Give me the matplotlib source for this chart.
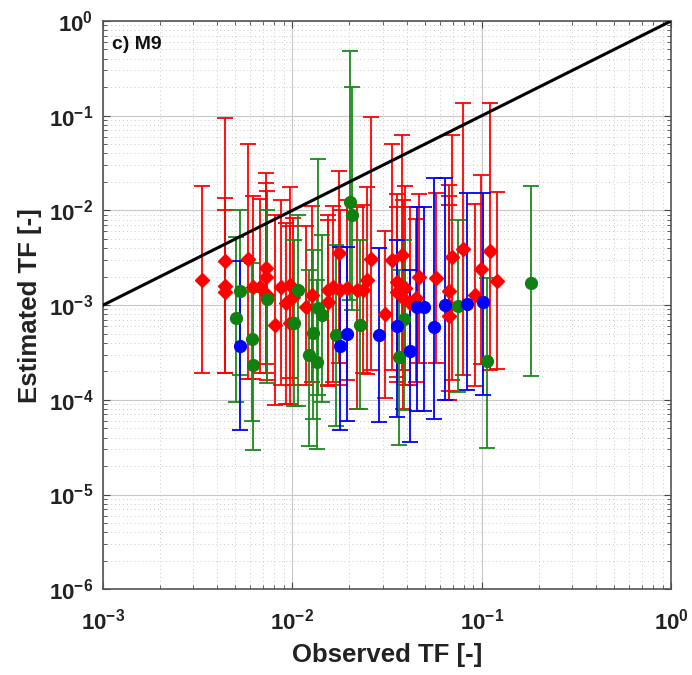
import numpy as np
import matplotlib
matplotlib.use("Agg")
import matplotlib.pyplot as plt
from matplotlib.ticker import FixedLocator, NullFormatter

plt.rcParams['font.family'] = ['Liberation Sans', 'DejaVu Sans']

# red diamonds: observed, estimated, upper bound, lower bound
red_obs = [3.33e-3, 4.40e-3, 4.40e-3, 4.40e-3, 5.82e-3, 6.19e-3, 6.73e-3, 7.25e-3, 7.25e-3, 7.33e-3,
           8.09e-3, 8.69e-3, 9.25e-3, 9.70e-3, 1.01e-2, 9.70e-3, 1.18e-2, 1.27e-2, 1.54e-2, 1.64e-2,
           1.54e-2, 1.76e-2, 1.78e-2, 1.94e-2, 2.19e-2, 2.36e-2, 2.47e-2, 2.60e-2, 3.08e-2, 3.35e-2,
           3.56e-2, 3.56e-2, 3.78e-2, 3.92e-2, 3.83e-2, 4.17e-2, 4.49e-2, 4.65e-2, 5.72e-2, 6.70e-2,
           6.70e-2, 6.70e-2, 6.95e-2, 7.94e-2, 9.19e-2, 9.89e-2, 0.111, 0.120]
red_est = [1.84e-3, 2.92e-3, 1.59e-3, 1.37e-3, 3.07e-3, 1.55e-3, 1.55e-3, 2.47e-3, 1.98e-3, 1.28e-3,
           6.17e-4, 1.55e-3, 1.05e-3, 1.63e-3, 1.22e-3, 6.47e-4, 9.55e-4, 1.28e-3, 1.44e-3, 1.55e-3,
           1.08e-3, 3.55e-3, 1.44e-3, 1.52e-3, 1.44e-3, 1.44e-3, 1.84e-3, 3.07e-3, 8.05e-4, 2.99e-3,
           1.75e-3, 1.37e-3, 3.38e-3, 1.52e-3, 1.19e-3, 1.05e-3, 1.19e-3, 1.98e-3, 1.93e-3, 1.41e-3,
           9.78e-4, 7.67e-4, 3.22e-3, 3.91e-3, 1.28e-3, 2.41e-3, 3.72e-3, 1.80e-3]
red_hi = [1.81e-2, 9.46e-2, 1.35e-2, 1.01e-2, 5.02e-2, 1.42e-2, 1.32e-2, 2.48e-2, 1.95e-2, 1.60e-2,
          8.93e-3, 1.29e-2, 7.36e-3, 1.77e-2, 8.32e-3, 6.84e-3, 6.84e-3, 1.11e-2, 8.93e-3, 1.11e-2,
          7.92e-3, 2.61e-2, 1.01e-2, 1.29e-2, 1.09e-2, 1.14e-2, 1.77e-2, 9.68e-2, 6.05e-3, 5.02e-2,
          1.49e-2, 1.09e-2, 6.25e-2, 1.81e-2, 1.29e-2, 1.09e-2, 8.11e-3, 1.49e-2, 1.53e-2, 1.85e-2,
          1.42e-2, 1.14e-2, 6.25e-2, 1.36e-1, 1.17e-2, 2.37e-2, 1.36e-1, 1.56e-2]
red_lo = [1.92e-4, 1.92e-4, 1.92e-4, 1.92e-4, 1.66e-4, 1.66e-4, 1.92e-4, 2.39e-4, 1.92e-4, 1.62e-4,
          8.81e-5, 1.43e-4, 9.03e-5, 1.70e-4, 1.43e-4, 9.03e-5, 1.43e-4, 1.54e-4, 1.40e-4, 1.54e-4,
          1.43e-4, 2.45e-4, 1.43e-4, 1.62e-4, 8.00e-5, 1.92e-4, 1.87e-4, 2.06e-4, 1.04e-4, 2.06e-4,
          1.74e-4, 1.54e-4, 2.06e-4, 1.43e-4, 8.00e-5, 1.43e-4, 1.54e-4, 2.45e-4, 2.45e-4, 1.24e-4,
          9.95e-5, 9.95e-5, 1.62e-4, 1.83e-4, 1.40e-4, 2.39e-4, 2.06e-4, 2.11e-4]

# green circles
green_obs = [5.28e-3, 5.03e-3, 6.11e-3, 6.19e-3, 7.33e-3, 1.02e-2, 1.07e-2, 1.36e-2, 1.43e-2, 1.28e-2,
             1.22e-2, 1.35e-2, 2.01e-2, 2.06e-2, 1.70e-2, 2.27e-2, 3.65e-2, 3.88e-2, 7.47e-2, 0.106, 0.1815]
green_est = [1.41e-3, 7.31e-4, 4.39e-4, 2.33e-4, 1.16e-3, 6.47e-4, 1.44e-3, 9.31e-4, 7.85e-4, 5.07e-4,
             2.97e-4, 2.51e-4, 1.23e-2, 8.93e-3, 4.83e-4, 6.17e-4, 2.83e-4, 7.13e-4, 9.78e-4, 2.57e-4, 1.71e-3]
green_hi = [1.01e-2, 5.24e-3, 2.79e-3, 1.37e-3, 1.01e-2, 4.86e-3, 8.93e-3, 3.49e-2, 5.50e-3, 3.82e-3,
            2.35e-3, 1.84e-3, 0.482, 0.201, 4.31e-3, 4.86e-3, 2.35e-3, 4.86e-3, 7.92e-3, 1.93e-3, 1.81e-2]
green_lo = [1.83e-4, 9.48e-5, 5.97e-5, 2.95e-5, 1.50e-4, 8.61e-5, 8.61e-5, 1.12e-4, 9.48e-5, 6.27e-5,
            3.25e-5, 3.02e-5, 1.13e-3, 8.87e-4, 5.28e-5, 8.00e-5, 3.33e-5, 7.80e-5, 1.21e-4, 3.10e-5, 1.78e-4]

# blue circles
blue_obs = [5.28e-3, 1.78e-2, 1.94e-2, 2.86e-2, 3.56e-2, 4.17e-2, 4.54e-2, 4.95e-2, 5.59e-2, 6.38e-2, 8.34e-2, 0.1012]
blue_est = [3.70e-4, 3.70e-4, 4.95e-4, 4.83e-4, 6.01e-4, 3.27e-4, 9.55e-4, 9.55e-4, 5.87e-4, 1.00e-3, 1.03e-3, 1.08e-3]
blue_hi = [2.92e-3, 4.11e-3, 4.11e-3, 4.01e-3, 4.86e-3, 2.35e-3, 1.09e-2, 1.09e-2, 2.20e-2, 2.20e-2, 1.53e-2, 1.53e-2]
blue_lo = [4.80e-5, 4.80e-5, 5.97e-5, 5.83e-5, 6.58e-5, 3.58e-5, 7.62e-5, 7.62e-5, 6.27e-5, 9.95e-5, 1.27e-4, 1.12e-4]

one_to_one = [1e-3, 1.0]
x_ticks = [1e-3, 1e-2, 1e-1, 1]
y_ticks = [1e-6, 1e-5, 1e-4, 1e-3, 1e-2, 1e-1, 1]

fig = plt.figure(figsize=(6.92, 6.75), dpi=100)
ax = fig.add_axes([0.149, 0.127, 0.821, 0.842])


def draw(obs, est, hi, lo, color, barcolor, marker, ms):
    obs = np.array(obs)
    est = np.array(est)
    yerr = [est - np.array(lo), np.array(hi) - est]
    ax.errorbar(obs, est, yerr=yerr, fmt='none', ecolor=barcolor, elinewidth=1.3,
                capsize=5.5, capthick=1.3, zorder=2)
    ax.plot(obs, est, linestyle='none', marker=marker, markersize=ms,
            color=color, markeredgecolor=color, zorder=3)


draw(red_obs, red_est, red_hi, red_lo, '#ff0000', '#ff0000', 'D', 7.5)
draw(green_obs, green_est, green_hi, green_lo, '#108010', '#1a8a1a', 'o', 8.5)
draw(blue_obs, blue_est, blue_hi, blue_lo, '#0000ff', '#0000ff', 'o', 8.5)

ax.plot(one_to_one, one_to_one, color='black', linewidth=2.2, zorder=4)

ax.set_xscale('log')
ax.set_yscale('log')
ax.set_xlim(1e-3, 1)
ax.set_ylim(1e-6, 1)

ax.xaxis.set_major_locator(FixedLocator(x_ticks))
ax.yaxis.set_major_locator(FixedLocator(y_ticks))
x_minor = [m * t for t in x_ticks[:-1] for m in range(2, 10)]
y_minor = [m * t for t in y_ticks[:-1] for m in range(2, 10)]
ax.xaxis.set_minor_locator(FixedLocator(x_minor))
ax.yaxis.set_minor_locator(FixedLocator(y_minor))
ax.xaxis.set_minor_formatter(NullFormatter())
ax.yaxis.set_minor_formatter(NullFormatter())

ax.grid(True, which='major', color='#c8c8c8', linewidth=0.8, linestyle='-')
ax.grid(True, which='minor', color='#c8c8c8', linewidth=0.7, linestyle=(0, (1, 3)))
ax.set_axisbelow(True)

ax.tick_params(which='both', direction='in', top=True, right=True, colors='#444444')
ax.tick_params(axis='x', which='major', pad=14)
ax.tick_params(axis='y', which='major', pad=7)
ax.tick_params(which='major', length=5, labelsize=16, labelcolor='#222222')
ax.tick_params(which='minor', length=3)
for lab in ax.get_xticklabels() + ax.get_yticklabels():
    lab.set_fontweight('bold')
for s in ax.spines.values():
    s.set_color('#555555')
    s.set_linewidth(1.2)

ax.set_xlabel('Observed TF [-]', fontsize=18.5, fontweight='bold', color='#222222', labelpad=6)
ax.set_ylabel('Estimated TF [-]', fontsize=18.5, fontweight='bold', color='#222222', labelpad=5)
ax.text(0.015, 0.958, 'c) M9', transform=ax.transAxes, fontsize=14, fontweight='bold',
        color='#111111', va='center')

fig.savefig('out.png', dpi=100)
